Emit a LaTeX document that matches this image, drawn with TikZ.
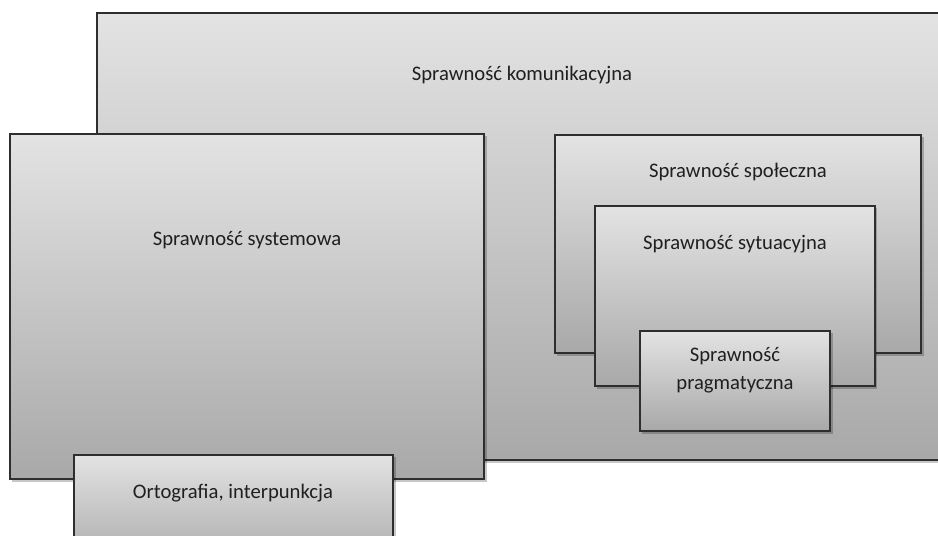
\documentclass[tikz,border=0pt]{standalone}
\usepackage{fontspec}
\setmainfont{Carlito}
\begin{document}
\begin{tikzpicture}[x=0.75pt,y=-0.75pt,
  box/.style={draw=black!82, line width=1.2pt, top color=gray!22, bottom color=gray!68},
  shadowbox/.style={fill=black, opacity=0.22},
  lbl/.style={text=black!88, font=\fontsize{15.5}{19}\selectfont, align=center, inner sep=0pt}]
\useasboundingbox (0,0) rectangle (938,535);
\clip (0,0) rectangle (938,535);
% outer
\fill[shadowbox] (99,15) rectangle (952,463);
\path[box] (97,13) rectangle (950,460);
\node[lbl] (kom) at (522,75) {Sprawność komunikacyjna};
% systemowa
\fill[shadowbox] (12,136) rectangle (487,482);
\path[box] (10,134) rectangle (484,479);
\node[lbl] (sys) at (247,240) {Sprawność systemowa};
% ortografia
\fill[shadowbox] (76,457) rectangle (396,570);
\path[box] (74,455) rectangle (393,568);
\node[lbl] (ort) at (233,493) {Ortografia, interpunkcja};
% spoleczna
\fill[shadowbox] (557,137) rectangle (924,356);
\path[box] (555,135) rectangle (921,353);
\node[lbl] (spo) at (738,172) {Sprawność społeczna};
% sytuacyjna
\fill[shadowbox] (597,208) rectangle (877,389);
\path[box] (595,206) rectangle (875,386);
\node[lbl] (syt) at (735,244) {Sprawność sytuacyjna};
% pragmatyczna
\fill[shadowbox] (642,333) rectangle (833,434);
\path[box] (640,331) rectangle (830,431);
\node[lbl] (pra) at (735,370) {Sprawność\\[2pt]pragmatyczna};
\end{tikzpicture}
\end{document}
